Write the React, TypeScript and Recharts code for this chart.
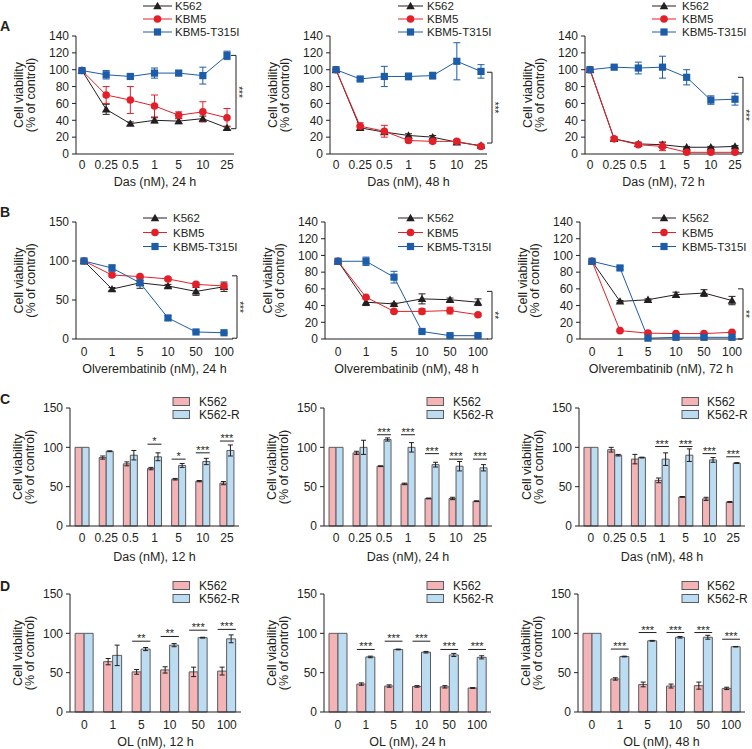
import React from "react";
import {
  LineChart,
  Line,
  BarChart,
  Bar,
  XAxis,
  YAxis,
  ErrorBar,
  Legend,
  ReferenceArea,
} from "recharts";

const FONT = '"Liberation Sans", Arial, Helvetica, sans-serif';
const INK = "#231f20";
const RED = "#e3202a";
const BLUE = "#1d5ca9";
const PINK = "#f4b3b5";
const SKY = "#bcdcf2";
const EDGE = "#5b5b5f";

// dose categories
const dasDoses = ["0", "0.25", "0.5", "1", "5", "10", "25"];
const olvDoses = ["0", "1", "5", "10", "50", "100"];
const ticks140 = [0, 20, 40, 60, 80, 100, 120, 140];
const ticks150 = [0, 50, 100, 150];

// A: dasatinib, three cell lines
const das24K562 = [99, 53, 36, 40, 39, 42, 31];
const das24K562Err = [0, 6, 2, 3, 3, 3, 2];
const das24Kbm5 = [99, 70, 64, 57, 46, 50, 43];
const das24Kbm5Err = [0, 10, 16, 13, 4, 12, 11];
const das24T315i = [99, 94, 92, 96, 96, 93, 117];
const das24T315iErr = [0, 5, 2, 6, 3, 10, 5];

const das48K562 = [100, 31, 26, 22, 20, 14, 10];
const das48K562Err = [0, 3, 2, 2, 2, 2, 1];
const das48Kbm5 = [100, 33, 27, 16, 15, 15, 9];
const das48Kbm5Err = [0, 4, 7, 2, 2, 2, 1];
const das48T315i = [100, 89, 92, 92, 93, 110, 98];
const das48T315iErr = [0, 2, 12, 4, 4, 22, 8];

const das72K562 = [100, 18, 12, 11, 8, 8, 9];
const das72K562Err = [0, 2, 2, 3, 1, 1, 1];
const das72Kbm5 = [100, 18, 11, 9, 2, 2, 2];
const das72Kbm5Err = [0, 2, 2, 5, 1, 1, 1];
const das72T315i = [100, 103, 102, 103, 91, 64, 65];
const das72T315iErr = [0, 1, 7, 13, 9, 5, 7];

// B: olverembatinib, three cell lines
const olv24K562 = [100, 64, 72, 68, 61, 67];
const olv24K562Err = [0, 2, 7, 2, 5, 6];
const olv24Kbm5 = [100, 82, 80, 77, 70, 68];
const olv24Kbm5Err = [0, 2, 2, 2, 2, 3];
const olv24T315i = [100, 91, 72, 27, 9, 8];
const olv24T315iErr = [0, 4, 3, 3, 1, 1];

const olv48K562 = [93, 44, 42, 48, 47, 44];
const olv48K562Err = [0, 4, 1, 6, 2, 4];
const olv48Kbm5 = [93, 50, 33, 33, 34, 29];
const olv48Kbm5Err = [0, 1, 1, 3, 4, 1];
const olv48T315i = [93, 93, 74, 9, 4, 4];
const olv48T315iErr = [0, 5, 7, 1, 1, 1];

const olv72K562 = [93, 45, 47, 53, 55, 46];
const olv72K562Err = [0, 1, 1, 3, 4, 5];
const olv72Kbm5 = [93, 10, 7, 6.5, 6.5, 8];
const olv72Kbm5Err = [0, 1, 1, 1, 1, 1];
const olv72T315i = [93, 85, 1, 2, 2, 2];
const olv72T315iErr = [0, 2, 1, 1, 1, 1];

// C: dasatinib, K562 vs K562-R
const c12K562 = [100, 87, 79, 73, 59.5, 57, 54.5];
const c12K562Err = [0, 2, 2.5, 1.5, 1, 0.8, 2];
const c12K562R = [100, 95, 90, 88, 77, 82, 96];
const c12K562RErr = [0, 0.5, 6, 5, 2.5, 4, 7];
const c12SigY = [null, null, null, 104, 85, 93, 108];
const c12Sig = ["", "", "", "*", "*", "***", "***"];

const c24K562 = [100, 93, 76, 53.5, 35, 35, 31.5];
const c24K562Err = [0, 2, 0.5, 1, 0.5, 1.5, 0.5];
const c24K562R = [100, 100, 110, 100, 78, 76, 74];
const c24K562RErr = [0, 9, 2, 6, 3, 6, 4];
const c24SigY = [null, null, 116, 116, 92, 85, 85];
const c24Sig = ["", "", "***", "***", "***", "***", "***"];

const c48K562 = [100, 97, 85, 58, 37, 34.5, 30.5];
const c48K562Err = [0, 3, 6, 3, 0.5, 2, 0.5];
const c48K562R = [100, 90, 87, 85, 90, 84, 80];
const c48K562RErr = [0, 1, 0.5, 8, 8, 3, 0.5];
const c48SigY = [null, null, null, 101, 101, 92, 88];
const c48Sig = ["", "", "", "***", "***", "***", "***"];

// D: olverembatinib, K562 vs K562-R
const d12K562 = [100, 64, 51, 53.5, 51, 52];
const d12K562Err = [0, 4, 3, 4, 6, 5];
const d12K562R = [100, 72, 80, 85, 94.5, 93];
const d12K562RErr = [0, 13, 2, 2, 0.5, 5];
const d12SigY = [null, null, 90, 96, 104, 105];
const d12Sig = ["", "", "**", "**", "***", "***"];

const d24K562 = [100, 35.5, 33, 32.5, 32, 30.5];
const d24K562Err = [0, 1.5, 1.5, 1, 1.5, 0.5];
const d24K562R = [100, 70, 79.5, 76, 72.5, 69.5];
const d24K562RErr = [0, 1, 0.5, 1, 2, 2];
const d24SigY = [null, 79.5, 90, 90, 79.5, 79.5];
const d24Sig = ["", "***", "***", "***", "***", "***"];

const d48K562 = [100, 42, 35, 33, 33.5, 30];
const d48K562Err = [0, 1.5, 3, 2.5, 4.5, 1.5];
const d48K562R = [100, 70.5, 90.5, 95, 95, 83];
const d48K562RErr = [0, 0.5, 0.5, 1, 2.5, 0.3];
const d48SigY = [null, 80, 101, 101, 101, 92.5];
const d48Sig = ["", "***", "***", "***", "***", "***"];

const Y_W = 70;

type Shape = "tri" | "dot" | "sq";

interface LineSeries {
  key: string;
  name: string;
  color: string;
  shape: Shape;
  values: number[];
  errs: number[];
}

const threeLines = (
  k: number[], kE: number[], b: number[], bE: number[], t: number[], tE: number[]
): LineSeries[] => [
  { key: "k562", name: "K562", color: INK, shape: "tri", values: k, errs: kE },
  { key: "kbm5", name: "KBM5", color: RED, shape: "dot", values: b, errs: bE },
  { key: "t315i", name: "KBM5-T315I", color: BLUE, shape: "sq", values: t, errs: tE },
];

function marker(shape: Shape, cx: number, cy: number, color: string, key?: string) {
  if (shape === "tri")
    return (
      <path key={key} d={`M${cx},${cy - 4.2}L${cx + 4.3},${cy + 3.2}L${cx - 4.3},${cy + 3.2}Z`} fill={color} />
    );
  if (shape === "sq")
    return <rect key={key} x={cx - 3.6} y={cy - 3.6} width={7.2} height={7.2} fill={color} />;
  return <circle key={key} cx={cx} cy={cy} r={3.8} fill={color} />;
}

const makeDot = (shape: Shape, color: string) => (props: any) => {
  const { cx, cy, index } = props;
  if (cx == null || cy == null) return <g key={`d${index}`} />;
  return marker(shape, cx, cy, color, `d${index}`);
};

const textStyle = { fill: INK, fontFamily: FONT };

const yTitle = (x1: number, x2: number, cy: number) => () => (
  <g>
    <text x={x1} y={cy} transform={`rotate(-90 ${x1} ${cy})`} textAnchor="middle" dominantBaseline="central" fontSize={12.5} {...textStyle}>
      Cell viability
    </text>
    <text x={x2} y={cy} transform={`rotate(-90 ${x2} ${cy})`} textAnchor="middle" dominantBaseline="central" fontSize={12.5} {...textStyle}>
      (% of control)
    </text>
  </g>
);

const xTitle = (label: string, cx: number, cy: number) => () => (
  <text x={cx} y={cy} textAnchor="middle" dominantBaseline="central" fontSize={12.5} {...textStyle}>
    {label}
  </text>
);

const bracketShape = (stars: string, dx: number) => (props: any) => {
  const { x, y, width, height } = props;
  const bx = x + width + dx;
  const my = y + height / 2;
  return (
    <g>
      <path d={`M${bx - 5},${y}H${bx}V${y + height}H${bx - 5}`} fill="none" stroke={INK} strokeWidth={1} />
      <text x={bx + 2.5} y={my} transform={`rotate(90 ${bx + 2.5} ${my})`} textAnchor="middle" dominantBaseline="central" fontSize={10} {...textStyle}>
        {stars}
      </text>
    </g>
  );
};

const sigShape = (stars: string, gap: number) => (props: any) => {
  const { x, y, width } = props;
  const x1 = x + width * gap;
  const x2 = x + width * (1 - gap);
  return (
    <g>
      <line x1={x1} x2={x2} y1={y} y2={y} stroke={INK} strokeWidth={1} />
      <text x={(x1 + x2) / 2} y={y + 1} textAnchor="middle" fontSize={11} {...textStyle}>
        {stars}
      </text>
    </g>
  );
};

interface LinePanelProps {
  rowTop: number;
  left: number;
  right: number;
  top: number;
  bottom: number;
  padL: number;
  padR: number;
  yMax: number;
  yTicks: number[];
  doses: string[];
  series: LineSeries[];
  title: string;
  tickCenter: number;
  titleCenter: number;
  bracket: [number, number];
  stars: string;
  bracketDx: number;
  legend: { x1: number; x2: number; tx: number; ys: number[] };
}

function LinePanel(p: LinePanelProps) {
  const chartLeft = p.left - Y_W;
  const mTop = p.top - p.rowTop;
  const plotH = p.bottom - p.top;
  const xH = 46;
  const W = p.right - chartLeft + 18;
  const H = mTop + plotH + xH;
  const data = p.doses.map((d, i) => {
    const row: Record<string, any> = { dose: d };
    p.series.forEach((s) => {
      row[s.key] = s.values[i];
      row[s.key + "Err"] = s.errs[i];
    });
    return row;
  });
  const lg = p.legend;
  return (
    <div style={{ position: "absolute", left: chartLeft, top: p.rowTop }}>
      <LineChart width={W} height={H} data={data} margin={{ top: mTop, right: 18, bottom: 0, left: 0 }}>
        <XAxis
          dataKey="dose"
          interval={0}
          padding={{ left: p.padL, right: p.padR }}
          axisLine={{ stroke: INK }}
          tickLine={false}
          tickSize={3}
          tickMargin={p.tickCenter - 7.2}
          height={xH}
          tick={{ fill: INK, fontSize: 12, fontFamily: FONT }}
          label={{ content: xTitle(p.title, (p.left + p.right) / 2 - chartLeft, p.bottom - p.rowTop + p.titleCenter) }}
        />
        <YAxis
          width={Y_W}
          domain={[0, p.yMax]}
          ticks={p.yTicks}
          interval={0}
          axisLine={{ stroke: INK }}
          tickLine={{ stroke: INK }}
          tickSize={4}
          tickMargin={3}
          tick={{ fill: INK, fontSize: 12, fontFamily: FONT }}
          label={{ content: yTitle(Y_W - 57, Y_W - 45, mTop + plotH / 2) }}
        />
        <ReferenceArea
          y1={p.bracket[0]}
          y2={p.bracket[1]}
          ifOverflow="visible"
          shape={bracketShape(p.stars, p.bracketDx)}
        />
        {p.series.map((s) => (
          <Line
            key={s.key}
            type="linear"
            dataKey={s.key}
            name={s.name}
            stroke={s.color}
            strokeWidth={1}
            dot={makeDot(s.shape, s.color)}
            activeDot={false}
            isAnimationActive={false}
          >
            <ErrorBar dataKey={s.key + "Err"} direction="y" width={3.5} stroke={s.color} strokeWidth={1} />
          </Line>
        ))}
        <Legend
          layout="vertical"
          align="center"
          verticalAlign="middle"
          wrapperStyle={{ left: 0, top: 0, width: W, height: H, pointerEvents: "none" }}
          content={() => (
            <svg width={W} height={H} style={{ position: "absolute", left: 0, top: 0 }}>
              {p.series.map((s, i) => {
                const y = lg.ys[i] - p.rowTop;
                const x1 = lg.x1 - chartLeft;
                const x2 = lg.x2 - chartLeft;
                return (
                  <g key={s.key}>
                    <line x1={x1} x2={x2} y1={y} y2={y} stroke={s.color} strokeWidth={1} />
                    {marker(s.shape, (x1 + x2) / 2, y, s.color)}
                    <text x={lg.tx - chartLeft} y={y} dominantBaseline="central" fontSize={11.5} {...textStyle}>
                      {s.name}
                    </text>
                  </g>
                );
              })}
            </svg>
          )}
        />
      </LineChart>
    </div>
  );
}

interface BarPanelProps {
  rowTop: number;
  left: number;
  right: number;
  top: number;
  bottom: number;
  doses: string[];
  k562: number[];
  k562Err: number[];
  k562R: number[];
  k562RErr: number[];
  sigY: (number | null)[];
  sig: string[];
  gap: number;
  title: string;
  tickCenter: number;
  titleCenter: number;
  legend: { sx: number; tx: number; ys: number[] };
}

function BarPanel(p: BarPanelProps) {
  const chartLeft = p.left - Y_W;
  const mTop = p.top - p.rowTop;
  const plotH = p.bottom - p.top;
  const xH = 46;
  const W = p.right - chartLeft + 10;
  const H = mTop + plotH + xH;
  const data = p.doses.map((d, i) => ({
    dose: d,
    k562: p.k562[i],
    k562Err: p.k562Err[i],
    k562R: p.k562R[i],
    k562RErr: p.k562RErr[i],
  }));
  const lg = p.legend;
  const items = [
    { name: "K562", fill: PINK },
    { name: "K562-R", fill: SKY },
  ];
  return (
    <div style={{ position: "absolute", left: chartLeft, top: p.rowTop }}>
      <BarChart
        width={W}
        height={H}
        data={data}
        margin={{ top: mTop, right: 10, bottom: 0, left: 0 }}
        barCategoryGap={`${p.gap * 100}%`}
        barGap={0}
      >
        <XAxis
          dataKey="dose"
          interval={0}
          axisLine={{ stroke: INK }}
          tickLine={false}
          tickSize={3}
          tickMargin={p.tickCenter - 7.2}
          height={xH}
          tick={{ fill: INK, fontSize: 12, fontFamily: FONT }}
          label={{ content: xTitle(p.title, (p.left + p.right) / 2 - chartLeft, p.bottom - p.rowTop + p.titleCenter) }}
        />
        <YAxis
          width={Y_W}
          domain={[0, 150]}
          ticks={ticks150}
          interval={0}
          axisLine={{ stroke: INK }}
          tickLine={{ stroke: INK }}
          tickSize={4}
          tickMargin={3}
          tick={{ fill: INK, fontSize: 12, fontFamily: FONT }}
          label={{ content: yTitle(Y_W - 52, Y_W - 40, mTop + plotH / 2) }}
        />
        <Bar dataKey="k562" name="K562" fill={PINK} stroke={EDGE} strokeWidth={1} isAnimationActive={false}>
          <ErrorBar dataKey="k562Err" direction="y" width={2.5} stroke={INK} strokeWidth={1} />
        </Bar>
        <Bar dataKey="k562R" name="K562-R" fill={SKY} stroke={EDGE} strokeWidth={1} isAnimationActive={false}>
          <ErrorBar dataKey="k562RErr" direction="y" width={2.5} stroke={INK} strokeWidth={1} />
        </Bar>
        {p.doses.map((d, i) =>
          p.sigY[i] == null ? null : (
            <ReferenceArea
              key={d}
              x1={d}
              x2={d}
              y1={p.sigY[i] as number}
              y2={p.sigY[i] as number}
              ifOverflow="visible"
              shape={sigShape(p.sig[i], p.gap)}
            />
          )
        )}
        <Legend
          layout="vertical"
          align="center"
          verticalAlign="middle"
          wrapperStyle={{ left: 0, top: 0, width: W, height: H, pointerEvents: "none" }}
          content={() => (
            <svg width={W} height={H} style={{ position: "absolute", left: 0, top: 0 }}>
              {items.map((it, i) => {
                const y = lg.ys[i] - p.rowTop;
                const x = lg.sx - chartLeft;
                return (
                  <g key={it.name}>
                    <rect x={x} y={y - 4} width={16.5} height={8} fill={it.fill} stroke={EDGE} strokeWidth={1} />
                    <text x={lg.tx - chartLeft} y={y} dominantBaseline="central" fontSize={12} {...textStyle}>
                      {it.name}
                    </text>
                  </g>
                );
              })}
            </svg>
          )}
        />
      </BarChart>
    </div>
  );
}

const letterStyle = (top: number): React.CSSProperties => ({
  position: "absolute",
  left: 0,
  top,
  fontFamily: FONT,
  fontWeight: 700,
  fontSize: 14,
  lineHeight: "14px",
  color: INK,
});

export default function App() {
  const lineLegendA = (x1: number, x2: number, tx: number) => ({ x1, x2, tx, ys: [6, 19, 32] });
  const lineLegendB = (x1: number, x2: number, tx: number) => ({ x1, x2, tx, ys: [218, 232.5, 246.5] });
  return (
    <div
      style={{
        position: "absolute",
        left: 0,
        top: 0,
        width: 752,
        height: 749,
        overflow: "hidden",
        background: "#fff",
        fontFamily: FONT,
      }}
    >
      <div style={letterStyle(19)}>A</div>
      <div style={letterStyle(205)}>B</div>
      <div style={letterStyle(392)}>C</div>
      <div style={letterStyle(579)}>D</div>

      <LinePanel
        rowTop={0} left={76} right={234} top={36} bottom={154} padL={6} padR={7}
        yMax={140} yTicks={ticks140} doses={dasDoses}
        series={threeLines(das24K562, das24K562Err, das24Kbm5, das24Kbm5Err, das24T315i, das24T315iErr)}
        title="Das (nM), 24 h" tickCenter={11} titleCenter={28}
        bracket={[117, 30]} stars="***" bracketDx={9}
        legend={lineLegendA(143, 172, 175)}
      />
      <LinePanel
        rowTop={0} left={330} right={487} top={36} bottom={154} padL={6} padR={6}
        yMax={140} yTicks={ticks140} doses={dasDoses}
        series={threeLines(das48K562, das48K562Err, das48Kbm5, das48Kbm5Err, das48T315i, das48T315iErr)}
        title="Das (nM), 48 h" tickCenter={11} titleCenter={28}
        bracket={[97, 13]} stars="***" bracketDx={11}
        legend={lineLegendA(398, 423, 427)}
      />
      <LinePanel
        rowTop={0} left={585} right={742} top={36} bottom={154} padL={5} padR={7}
        yMax={140} yTicks={ticks140} doses={dasDoses}
        series={threeLines(das72K562, das72K562Err, das72Kbm5, das72Kbm5Err, das72T315i, das72T315iErr)}
        title="Das (nM), 72 h" tickCenter={11} titleCenter={28}
        bracket={[91, 1.5]} stars="***" bracketDx={8}
        legend={lineLegendA(652, 676, 682)}
      />

      <LinePanel
        rowTop={190} left={76} right={233} top={222} bottom={339} padL={8} padR={9}
        yMax={150} yTicks={ticks150} doses={olvDoses}
        series={threeLines(olv24K562, olv24K562Err, olv24Kbm5, olv24Kbm5Err, olv24T315i, olv24T315iErr)}
        title="Olverembatinib (nM), 24 h" tickCenter={13} titleCenter={30}
        bracket={[81, 1]} stars="***" bracketDx={13}
        legend={lineLegendB(143, 167, 173)}
      />
      <LinePanel
        rowTop={190} left={325} right={488} top={222} bottom={339} padL={13} padR={10}
        yMax={140} yTicks={ticks140} doses={olvDoses}
        series={threeLines(olv48K562, olv48K562Err, olv48Kbm5, olv48Kbm5Err, olv48T315i, olv48T315iErr)}
        title="Olverembatinib (nM), 48 h" tickCenter={13} titleCenter={30}
        bracket={[57, 0]} stars="**" bracketDx={14}
        legend={lineLegendB(398, 423, 427)}
      />
      <LinePanel
        rowTop={190} left={580} right={742} top={222} bottom={339} padL={12} padR={10}
        yMax={140} yTicks={ticks140} doses={olvDoses}
        series={threeLines(olv72K562, olv72K562Err, olv72Kbm5, olv72Kbm5Err, olv72T315i, olv72T315iErr)}
        title="Olverembatinib (nM), 72 h" tickCenter={13} titleCenter={30}
        bracket={[60, 0]} stars="**" bracketDx={11}
        legend={lineLegendB(652, 676, 682)}
      />

      <BarPanel
        rowTop={378} left={70} right={239} top={408} bottom={526} doses={dasDoses}
        k562={c12K562} k562Err={c12K562Err} k562R={c12K562R} k562RErr={c12K562RErr}
        sigY={c12SigY} sig={c12Sig} gap={0.21}
        title="Das (nM), 12 h" tickCenter={12} titleCenter={31}
        legend={{ sx: 173, tx: 199, ys: [401.5, 414.5] }}
      />
      <BarPanel
        rowTop={378} left={324} right={492} top={408} bottom={526} doses={dasDoses}
        k562={c24K562} k562Err={c24K562Err} k562R={c24K562R} k562RErr={c24K562RErr}
        sigY={c24SigY} sig={c24Sig} gap={0.21}
        title="Das (nM), 24 h" tickCenter={12} titleCenter={31}
        legend={{ sx: 427, tx: 453, ys: [401.5, 414.5] }}
      />
      <BarPanel
        rowTop={378} left={579} right={745} top={408} bottom={526} doses={dasDoses}
        k562={c48K562} k562Err={c48K562Err} k562R={c48K562R} k562RErr={c48K562RErr}
        sigY={c48SigY} sig={c48Sig} gap={0.21}
        title="Das (nM), 48 h" tickCenter={12} titleCenter={31}
        legend={{ sx: 682, tx: 707, ys: [401.5, 414.5] }}
      />

      <BarPanel
        rowTop={563} left={70} right={241} top={594} bottom={712} doses={olvDoses}
        k562={d12K562} k562Err={d12K562Err} k562R={d12K562R} k562RErr={d12K562RErr}
        sigY={d12SigY} sig={d12Sig} gap={0.18}
        title="OL (nM), 12 h" tickCenter={13} titleCenter={30}
        legend={{ sx: 173, tx: 199, ys: [585.5, 598.5] }}
      />
      <BarPanel
        rowTop={563} left={324} right={491} top={594} bottom={712} doses={olvDoses}
        k562={d24K562} k562Err={d24K562Err} k562R={d24K562R} k562RErr={d24K562RErr}
        sigY={d24SigY} sig={d24Sig} gap={0.18}
        title="OL (nM), 24 h" tickCenter={13} titleCenter={30}
        legend={{ sx: 427, tx: 453, ys: [585.5, 598.5] }}
      />
      <BarPanel
        rowTop={563} left={578} right={745} top={594} bottom={712} doses={olvDoses}
        k562={d48K562} k562Err={d48K562Err} k562R={d48K562R} k562RErr={d48K562RErr}
        sigY={d48SigY} sig={d48Sig} gap={0.18}
        title="OL (nM), 48 h" tickCenter={13} titleCenter={30}
        legend={{ sx: 682, tx: 707, ys: [585.5, 598.5] }}
      />
    </div>
  );
}
